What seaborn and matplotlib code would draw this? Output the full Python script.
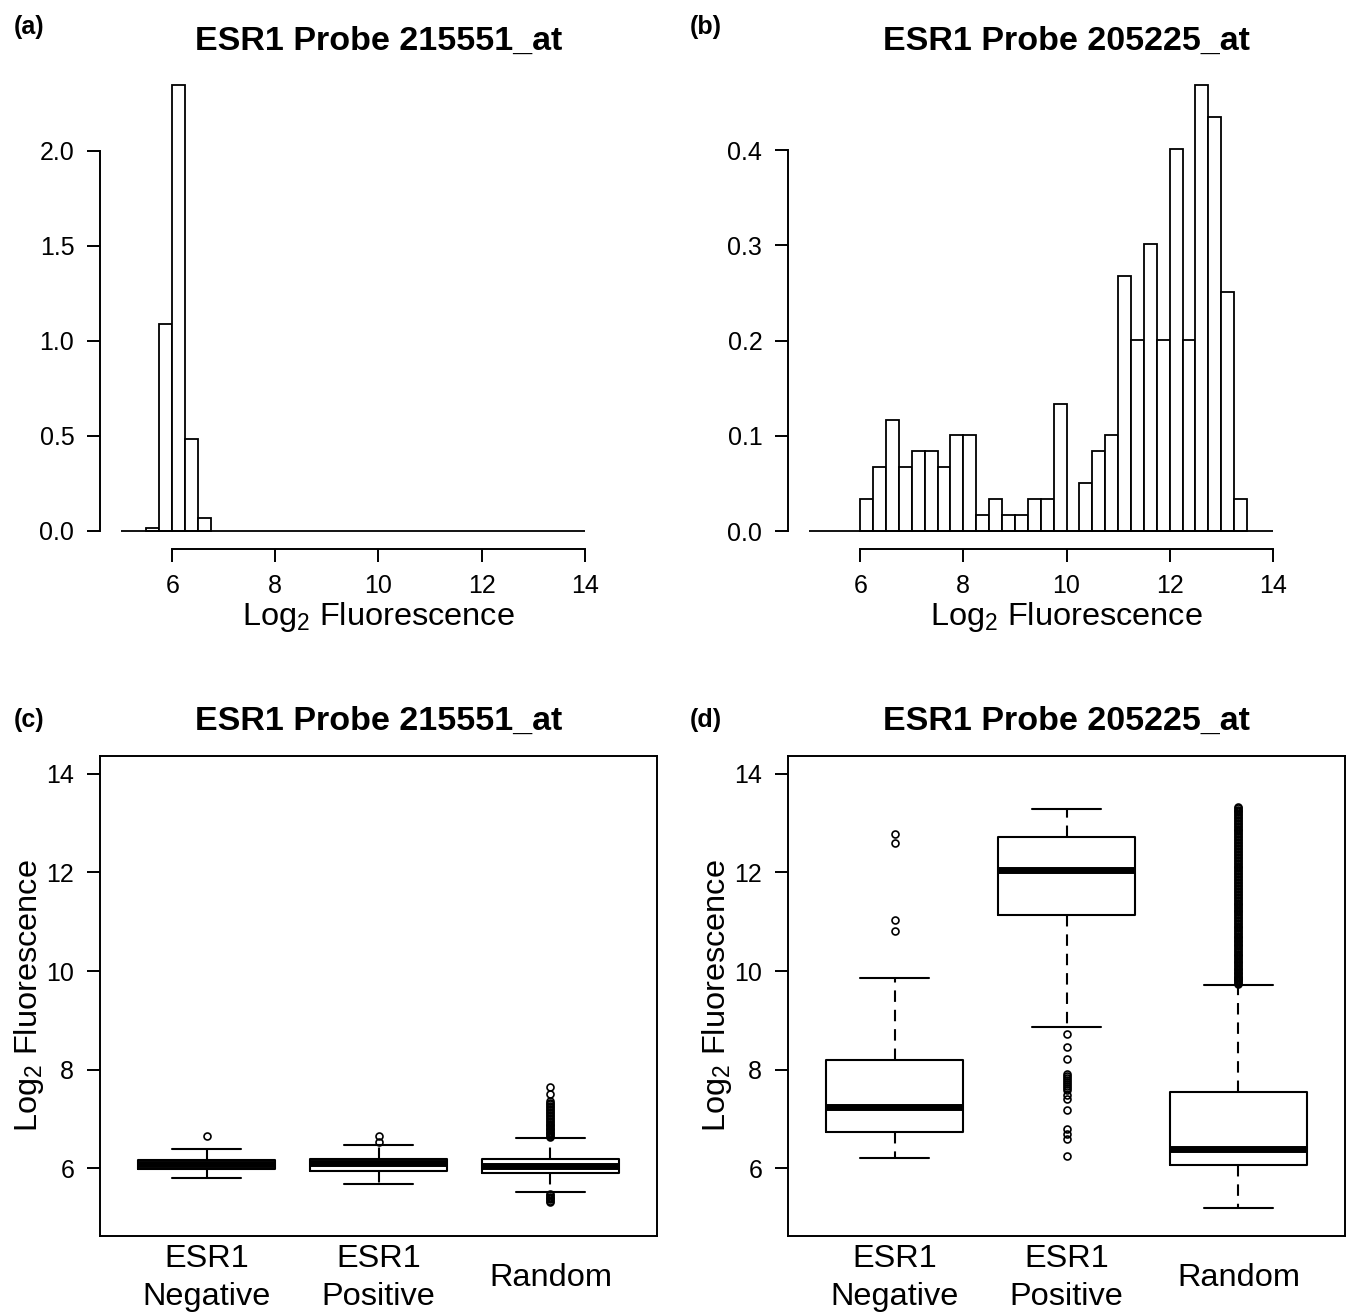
import numpy as np
import matplotlib
matplotlib.use("Agg")
import matplotlib.pyplot as plt
import seaborn as sns

# ---- histogram data: counts per 0.25 bin, 239 samples ----
edges_a = [5.5, 5.75, 6.0, 6.25, 6.5, 6.75]
counts_a = [1, 65, 140, 29, 4]

edges_b = [6.0, 6.25, 6.5, 6.75, 7.0, 7.25, 7.5, 7.75, 8.0, 8.25, 8.5, 8.75,
           9.0, 9.25, 9.5, 9.75, 10.0, 10.25, 10.5, 10.75, 11.0, 11.25, 11.5,
           11.75, 12.0, 12.25, 12.5, 12.75, 13.0, 13.25, 13.5]
counts_b = [2, 4, 7, 4, 5, 5, 4, 6, 6, 1, 2, 1, 1, 2, 2, 8, 0, 3, 5, 6,
            16, 12, 18, 12, 24, 12, 28, 26, 15, 2]

# ---- boxplot summaries ----
groups = ["ESR1\nNegative", "ESR1\nPositive", "Random"]

c_med = [6.08, 6.115, 6.05]
c_q1 = [5.99, 5.955, 5.90]
c_q3 = [6.18, 6.20, 6.19]
c_wlo = [5.80, 5.68, 5.53]
c_whi = [6.39, 6.48, 6.61]
c_fliers = [
    [6.65],
    [6.54, 6.65],
    [6.64, 6.66, 6.69, 6.71, 6.74, 6.77, 6.80, 6.82, 6.85, 6.88, 6.91, 6.94,
     6.97, 7.00, 7.03, 7.06, 7.09, 7.12, 7.15, 7.18, 7.21, 7.24, 7.27, 7.30,
     7.33, 7.37, 7.50, 7.65,
     5.49, 5.46, 5.43, 5.40, 5.37, 5.34, 5.31],
]

d_med = [7.25, 12.05, 6.39]
d_q1 = [6.74, 11.14, 6.07]
d_q3 = [8.20, 12.71, 7.54]
d_wlo = [6.22, 8.86, 5.19]
d_whi = [9.85, 13.29, 9.72]
d_fliers = [
    [10.81, 11.04, 12.59, 12.77],
    [8.73, 8.47, 8.22, 7.92, 7.88, 7.84, 7.80, 7.76, 7.72, 7.68, 7.63, 7.58,
     7.48, 7.40, 7.18, 6.79, 6.69, 6.59, 6.25],
    [9.74, 9.76, 9.79, 9.81, 9.83, 9.86, 9.88, 9.91, 9.94, 9.97, 9.99, 10.02,
     10.05, 10.07, 10.10, 10.13, 10.16, 10.18, 10.21, 10.24, 10.27, 10.30,
     10.33, 10.35, 10.38, 10.41, 10.44, 10.47, 10.50, 10.52, 10.55, 10.58,
     10.61, 10.64, 10.67, 10.69, 10.72, 10.75, 10.78, 10.81, 10.84, 10.87,
     10.90, 10.92, 10.95, 10.98, 11.01, 11.04, 11.07, 11.10, 11.13, 11.16,
     11.19, 11.21, 11.24, 11.27, 11.30, 11.33, 11.36, 11.39, 11.42, 11.45,
     11.48, 11.51, 11.54, 11.57, 11.60, 11.63, 11.66, 11.69, 11.72, 11.75,
     11.78, 11.81, 11.84, 11.87, 11.90, 11.93, 11.96, 11.99, 12.02, 12.05,
     12.08, 12.11, 12.14, 12.17, 12.20, 12.23, 12.26, 12.29, 12.32, 12.35,
     12.38, 12.41, 12.44, 12.47, 12.50, 12.53, 12.56, 12.59, 12.62, 12.65,
     12.68, 12.71, 12.74, 12.77, 12.80, 12.83, 12.86, 12.89, 12.92, 12.95,
     12.98, 13.01, 13.04, 13.07, 13.10, 13.13, 13.16, 13.19, 13.22, 13.25,
     13.27, 13.30, 13.33],
]

sns.set_style("ticks")
plt.rcParams['font.family'] = ['Liberation Sans', 'DejaVu Sans']
plt.rcParams['mathtext.fontset'] = 'custom'
plt.rcParams['mathtext.rm'] = 'Liberation Sans'
plt.rcParams['mathtext.it'] = 'Liberation Sans:italic'
for k in ['text.color', 'axes.labelcolor', 'xtick.color', 'ytick.color',
          'axes.edgecolor']:
    plt.rcParams[k] = 'black'

W, H = 1349, 1315
fig = plt.figure(figsize=(W / 100, H / 100), dpi=100)


def px_axes(x0, y0, x1, y1):
    return fig.add_axes([x0 / W, 1 - y1 / H, (x1 - x0) / W, (y1 - y0) / H])


LAB = "Log$_2$ Fluorescence"
TICK_FS = 18
LAB_FS = 23.4
TITLE_FS = 24.5
LW = 1.4


def draw_hist(ax, edges, counts, yticks, ylim, fmt):
    centers = [(a + b) / 2 for a, b in zip(edges[:-1], edges[1:])]
    sns.histplot(x=centers, weights=counts, bins=edges, stat="density",
                 ax=ax, color="white", edgecolor="black", linewidth=1.3,
                 alpha=1)
    ax.hlines(0, 5, 14, color="black", lw=1.3)
    ax.set_xlim(4.6, 15.4)
    ax.set_ylim(*ylim)
    ax.set_xticks([6, 8, 10, 12, 14])
    ax.set_yticks(yticks)
    ax.set_yticklabels([fmt % v for v in yticks])
    for s in ["top", "right"]:
        ax.spines[s].set_visible(False)
    ax.spines["left"].set_bounds(yticks[0], yticks[-1])
    ax.spines["bottom"].set_bounds(6, 14)
    for s in ["left", "bottom"]:
        ax.spines[s].set_linewidth(LW)
    ax.tick_params(length=9.5, width=LW, labelsize=TICK_FS, pad=9)
    ax.set_ylabel("")
    ax.set_xlabel(LAB, fontsize=LAB_FS, labelpad=1)


def draw_box(ax, med, q1, q3, wlo, whi, fliers):
    stats = []
    for i, g in enumerate(groups):
        stats.append(dict(med=med[i], q1=q1[i], q3=q3[i], whislo=wlo[i],
                          whishi=whi[i], fliers=fliers[i], label=g))
    ax.bxp(stats, positions=[1, 2, 3], widths=0.8,
           boxprops=dict(color="black", lw=1.5),
           medianprops=dict(color="black", lw=5, solid_capstyle="butt"),
           whiskerprops=dict(color="black", lw=1.5, ls=(0, (5.5, 3.8))),
           capprops=dict(color="black", lw=1.5),
           flierprops=dict(marker="o", mfc="none", mec="black", ms=5,
                           mew=1.2))
    ax.set_xlim(0.38, 3.62)
    ax.set_ylim(4.64, 14.36)
    ax.set_yticks([6, 8, 10, 12, 14])
    ax.set_xticks([1, 2, 3])
    ax.set_xticklabels(groups, va="center", linespacing=1.35)
    for s in ax.spines.values():
        s.set_linewidth(LW)
    ax.tick_params(axis="y", length=9.5, width=LW, labelsize=TICK_FS, pad=9,
                   left=True, right=False)
    ax.tick_params(axis="x", length=0, labelsize=LAB_FS, pad=30.5,
                   bottom=True)
    ax.set_ylabel(LAB, fontsize=LAB_FS, va="center")
    ax.yaxis.set_label_coords(-0.128, 0.5)


ax_a = px_axes(100, 67.5, 657, 548.8)
draw_hist(ax_a, edges_a, counts_a, [0.0, 0.5, 1.0, 1.5, 2.0],
          (-0.0937, 2.437), "%.1f")
ax_b = px_axes(788, 67.5, 1345, 548.8)
draw_hist(ax_b, edges_b, counts_b, [0.0, 0.1, 0.2, 0.3, 0.4],
          (-0.0187, 0.487), "%.1f")

ax_c = px_axes(100, 756, 657, 1235.5)
draw_box(ax_c, c_med, c_q1, c_q3, c_wlo, c_whi, c_fliers)
ax_d = px_axes(788, 756, 1345, 1235.5)
draw_box(ax_d, d_med, d_q1, d_q3, d_wlo, d_whi, d_fliers)

titles = ["ESR1 Probe 215551_at", "ESR1 Probe 205225_at"]
for ax, t, base in [(ax_a, titles[0], 50), (ax_b, titles[1], 50),
                    (ax_c, titles[0], 730), (ax_d, titles[1], 730)]:
    bb = ax.get_position()
    fig.text((bb.x0 + bb.x1) / 2, 1 - base / H, t, ha="center",
             va="baseline", fontsize=TITLE_FS, fontweight="bold")

for lab, x, y in [("(a)", 14, 27), ("(b)", 690, 27),
                  ("(c)", 14, 720), ("(d)", 690, 720)]:
    fig.text(x / W, 1 - y / H, lab, ha="left", va="center", fontsize=18,
             fontweight="bold")

fig.savefig("out.png", dpi=100)
